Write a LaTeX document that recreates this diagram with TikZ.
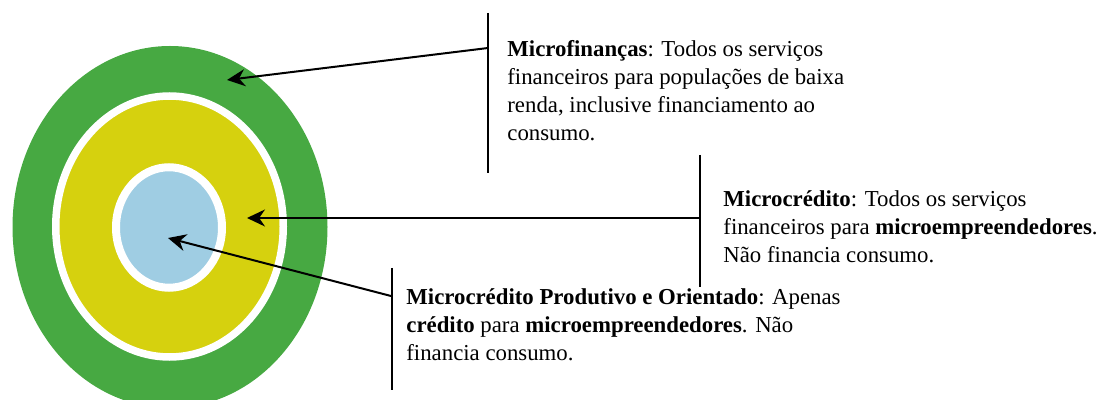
\documentclass[tikz,border=0pt]{standalone}
\usepackage{fontspec}
\setmainfont{Liberation Serif}
\usetikzlibrary{shapes.geometric,arrows.meta}
\definecolor{ringgreen}{RGB}{71,169,66}
\definecolor{ringyellow}{RGB}{214,209,14}
\definecolor{ringblue}{RGB}{159,205,227}
\begin{document}
\begin{tikzpicture}[x=0.5pt,y=-0.5pt,
        ring/.style={ellipse,inner sep=0pt,outer sep=0pt},
        desc/.style={anchor=north west,align=left,inner sep=0pt,font=\fontsize{11.4}{14}\selectfont},
        bar/.style={draw,line width=1.2pt}]
        \useasboundingbox (0,0) rectangle (1108,400);

        % the three rings
        \node[ring,fill=ringgreen,minimum width=157.5pt,minimum height=181pt] (fin) at (170,227){};
        \node[ring,fill=ringyellow,draw=white,line width=3.75pt,minimum width=113.75pt,minimum height=130.5pt] (cred) at (169.5,226.5){};
        \node[ring,fill=ringblue,draw=white,line width=4pt,minimum width=53pt,minimum height=60.25pt] (prod) at (169,227.5){};

        % arrow tips inside the rings
        \coordinate (fintip) at (227,80);
        \coordinate (credtip) at (247,218);
        \coordinate (prodtip) at (168,238);

        % vertical bars beside the texts
        \coordinate (fintop) at (488,13);
        \coordinate (finbot) at (488,173);
        \coordinate (credtop) at (700,155);
        \coordinate (credbot) at (700,287);
        \coordinate (prodtop) at (392,268);
        \coordinate (prodbot) at (392,390);
        \path [bar] (fintop) to (finbot);
        \path [bar] (credtop) to (credbot);
        \path [bar] (prodtop) to (prodbot);

        \coordinate (finstart) at (488,48);
        \coordinate (credstart) at (700,218);
        \coordinate (prodstart) at (391,296);

        \path [draw,line width=1pt,->,>={Stealth[length=9pt,width=8.5pt]}] (finstart) to (fintip);
        \path [draw,line width=1pt,->,>={Stealth[length=9pt,width=8.5pt]}] (credstart) to (credtip);
        \path [draw,line width=1pt,->,>={Stealth[length=9pt,width=8.5pt]}] (prodstart) to (prodtip);

        % texts
        \node[desc] (fintext) at (507,40){\textbf{Microfinanças}: Todos os serviços\\financeiros para populações de baixa\\renda, inclusive financiamento ao\\consumo.};
        \node[desc] (credtext) at (723,190){\textbf{Microcrédito}: Todos os serviços\\financeiros para \textbf{microempreendedores}.\\Não financia consumo.};
        \node[desc] (prodtext) at (406,288){\textbf{Microcrédito Produtivo e Orientado}: Apenas\\\textbf{crédito} para \textbf{microempreendedores}. Não\\financia consumo.};
    \end{tikzpicture}
\end{document}
